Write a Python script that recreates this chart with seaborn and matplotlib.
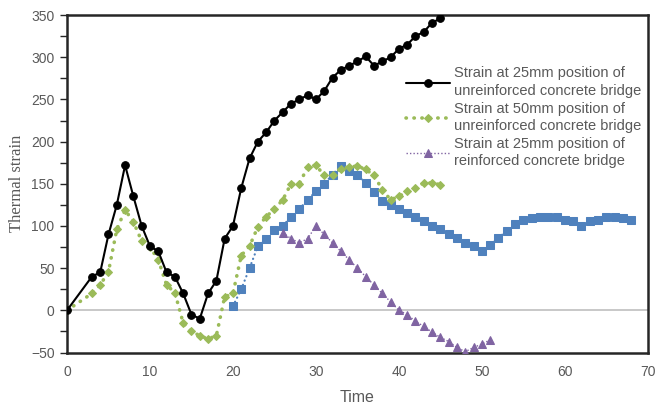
import matplotlib.pyplot as plt
import seaborn as sns
import pandas as pd

# unreinforced bridge, 25mm position
t_black = [0, 3, 4, 5, 6, 7, 8, 9, 10, 11, 12, 13, 14, 15, 16, 17, 18, 19, 20,
           21, 22, 23, 24, 25, 26, 27, 28, 29, 30, 31, 32, 33, 34, 35, 36, 37,
           38, 39, 40, 41, 42, 43, 44, 45]
s_black = [0, 40, 45, 90, 125, 172, 135, 100, 76, 70, 45, 40, 20, -5, -10, 20, 35, 85, 100,
           145, 180, 200, 211, 225, 235, 245, 250, 255, 250, 260, 276, 285, 290, 295, 301, 290,
           295, 300, 310, 315, 325, 330, 341, 346]

# unreinforced bridge, 50mm position
t_green = [0, 3, 4, 5, 6, 7, 8, 9, 10, 11, 12, 13, 14, 15, 16, 17, 18, 19, 20,
           21, 22, 23, 24, 25, 26, 27, 28, 29, 30, 31, 32, 33, 34, 35, 36, 37,
           38, 39, 40, 41, 42, 43, 44, 45]
s_green = [0, 20, 30, 46, 96, 119, 105, 82, 75, 60, 30, 21, -15, -25, -30, -34, -30, 16, 20,
           65, 76, 99, 111, 120, 131, 150, 150, 170, 172, 160, 160, 168, 170, 171, 167, 160,
           143, 131, 135, 141, 145, 151, 151, 149]

# reinforced bridge, 50mm position (not in legend)
t_blue = list(range(20, 69))
s_blue = [5, 25, 50, 76, 84, 95, 100, 111, 120, 131, 141, 150, 161, 171, 165, 160, 151, 140,
          130, 125, 120, 115, 111, 106, 100, 96, 91, 86, 80, 76, 70, 78, 86, 94, 102, 107,
          109, 111, 111, 111, 107, 106, 100, 106, 107, 111, 111, 109, 107]

# reinforced bridge, 25mm position
t_purple = list(range(26, 52))
s_purple = [92, 85, 80, 85, 100, 90, 80, 70, 60, 50, 40, 30, 20, 10, 0, -5, -13, -19, -26,
            -32, -37, -44, -49, -44, -40, -35]

labels = ["Strain at 25mm position of\nunreinforced concrete bridge",
          "Strain at 50mm position of\nunreinforced concrete bridge",
          "Strain at 25mm position of\nreinforced concrete bridge"]

sns.set_theme(style="white")
plt.rcParams["font.family"] = ["Liberation Sans", "DejaVu Sans"]
fig, ax = plt.subplots(figsize=(6.57, 4.08), dpi=100)
fig.subplots_adjust(left=0.102, right=0.986, bottom=0.136, top=0.963)

ax.axhline(0, color="#bfbfbf", lw=1.2, zorder=1)

sns.lineplot(x=t_black, y=s_black, ax=ax, color="black", lw=1.5, marker="o",
             markersize=5.5, markeredgecolor="black", label=labels[0], zorder=5)
sns.lineplot(x=t_green, y=s_green, ax=ax, color="#9BBB59", lw=2.6, linestyle=(0, (0.1, 2.1)),
             dash_capstyle="round", marker="D", markersize=4, markeredgecolor="#9BBB59",
             label=labels[1], zorder=4)
sns.lineplot(x=t_blue, y=s_blue, ax=ax, color="#4F81BD", lw=1.6, linestyle=(0, (0.1, 2)),
             dash_capstyle="round", marker="s", markersize=5.5, markeredgecolor="#4F81BD",
             legend=False, zorder=3)
sns.lineplot(x=t_purple, y=s_purple, ax=ax, color="#8064A2", lw=1.0, linestyle=(0, (1, 1.5)),
             marker="^", markersize=5.5, markeredgecolor="#8064A2", label=labels[2], zorder=3)

ax.set_xlim(0, 70)
ax.set_ylim(-50, 350)
ax.set_xticks(range(0, 71, 10))
ax.set_yticks(range(-50, 351, 50))
ax.set_yticks(range(-25, 350, 50), minor=True)
ax.tick_params(axis="y", which="both", left=True, direction="out", length=5, width=1,
               color="#262626", labelsize=10, labelcolor="#595959", pad=4)
ax.tick_params(axis="x", bottom=False, length=0, labelsize=10, labelcolor="#595959", pad=9)

for sp in ax.spines.values():
    sp.set_color("#262626")
    sp.set_linewidth(1.8)

ax.set_xlabel("Time", fontsize=11.5, color="#595959", labelpad=8)
ax.set_ylabel("Thermal strain", fontsize=12, color="#595959", family="Liberation Serif",
              labelpad=4)

leg = ax.legend(loc="upper left", bbox_to_anchor=(0.574, 0.865), frameon=False,
                fontsize=10.5, handlelength=3.0, handletextpad=0.3, labelspacing=0.22,
                borderaxespad=0)
for txt in leg.get_texts():
    txt.set_color("#595959")
    txt.set_linespacing(1.35)

plt.savefig("out.png", dpi=100)
